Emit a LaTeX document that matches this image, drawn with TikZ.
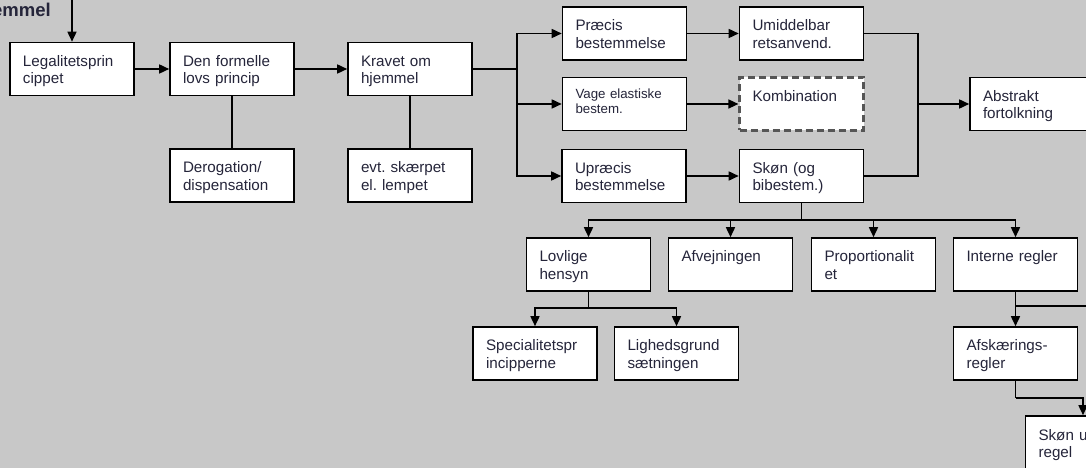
\documentclass[tikz,border=0pt]{standalone}
\usepackage{fontspec}
\setmainfont{Liberation Sans}
\usetikzlibrary{arrows.meta,calc}
\definecolor{bg}{HTML}{C8C8C8}
\definecolor{txt}{HTML}{25253A}
\definecolor{dashgray}{HTML}{555555}
\frenchspacing
\begin{document}
\begin{tikzpicture}[x=1bp,y=-1bp,
  box/.style={draw=black, line width=1.6bp, fill=white, text=txt,
    font=\fontsize{15.2bp}{17.4bp}\selectfont, text width=98bp,
    inner xsep=13bp, inner ysep=0pt, text height=24bp, text depth=29bp,
    align=left},
  smallbox/.style={box, font=\fontsize{13.3bp}{15.5bp}\selectfont,
    text height=21bp, text depth=32bp},
  dashbox/.style={box, draw=dashgray, line width=2.2bp, dash pattern=on 7bp off 4bp},
  conn/.style={line width=1.6bp, draw=black},
  arr/.style={conn, -{Triangle[length=10bp,width=9bp]}}]
\fill[bg] (0,0) rectangle (1086,468);
\useasboundingbox (0,0) rectangle (1086,468);

\node[anchor=base east, inner sep=0pt, text=txt,
  font=\bfseries\fontsize{18.5bp}{20bp}\selectfont] (hj) at (51,17) {Hjemmel};
\coordinate (top) at (72,-2);

\node[box] (legal)   at (72,69)     {Legalitetsprin\\cippet};
\node[box] (formel)  at (232,69)    {Den formelle\\lovs princip};
\node[box] (krav)    at (410,69)    {Kravet om\\hjemmel};
\node[box] (derog)   at (232,175.5) {Derogation/\\dispensation};
\node[box] (evt)     at (410,175.5) {evt. skærpet\\el. lempet};

\node[box] (precis)  at (624.5,33.5) {Præcis\\bestemmelse};
\node[smallbox] (vage) at (624.5,104) {Vage elastiske\\bestem.};
\node[box] (upraecis) at (624,176)   {Upræcis\\bestemmelse};

\node[box] (umid)    at (801.5,33.5) {Umiddelbar\\retsanvend.};
\node[dashbox] (komb) at (801.5,104) {Kombination};
\node[box] (skon)    at (801.5,176)  {Skøn (og\\bibestem.)};
\node[box] (abstr)   at (1032,104)   {Abstrakt\\fortolkning};

\node[box] (lovlige) at (588.5,264.5) {Lovlige\\hensyn};
\node[box] (afvej)   at (730.5,264.5) {Afvejningen};
\node[box] (prop)    at (873.5,264.5) {Proportionalit\\et};
\node[box] (interne) at (1015.5,264.5) {Interne regler};

\node[box] (spec)    at (535,353.5)   {Specialitetspr\\incipperne};
\node[box] (lighed)  at (676.5,353.5) {Lighedsgrund\\sætningen};
\node[box] (afsk)    at (1015.5,353.5) {Afskærings-\\regler};
\node[box] (skonu)   at (1087.5,442.5)  {Skøn uden\\regel};

% top row
\draw[arr] (top) -- (legal.north);
\draw[arr] (legal) -- (formel);
\draw[arr] (formel) -- (krav);
\draw[conn] (formel) -- (derog);
\draw[conn] (krav) -- (evt);

% branch from Kravet om hjemmel
\coordinate (kb) at (517,69);
\draw[conn] (krav.east) -- (kb);
\draw[arr] (kb) |- (precis.west);
\draw[arr] (kb) |- (vage.west);
\draw[arr] (kb) |- (upraecis.west);

\draw[arr] (precis) -- (umid);
\draw[arr] (vage) -- (komb);
\draw[arr] (upraecis) -- (skon);

% join to Abstrakt fortolkning
\coordinate (jr) at (918,104);
\draw[conn] (umid.east) -| (jr);
\draw[conn] (skon.east) -| (jr);
\draw[arr] (jr) -- (abstr.west);

% branch from Skon
\coordinate (sb) at (801.5,220);
\draw[conn] (skon.south) -- (sb);
\draw[arr] (sb) -| (lovlige.north);
\draw[arr] (sb) -| (afvej.north);
\draw[arr] (sb) -| (prop.north);
\draw[arr] (sb) -| (interne.north);

% branch from Lovlige hensyn
\coordinate (lb) at (588.5,308);
\draw[conn] (lovlige.south) -- (lb);
\draw[arr] (lb) -| (spec.north);
\draw[arr] (lb) -| (lighed.north);

% right column
\draw[arr] (interne) -- (afsk);
\coordinate (ir) at (1015.5,306);
\coordinate (irend) at (1095,306);
\draw[conn] (ir) -- (irend);
\coordinate (ab) at (1015.5,398);
\coordinate (sk) at ($(skonu.north)+(-4.5,0)$);
\draw[conn] (afsk.south) -- (ab);
\draw[arr] (ab) -| (sk);
\end{tikzpicture}
\end{document}
